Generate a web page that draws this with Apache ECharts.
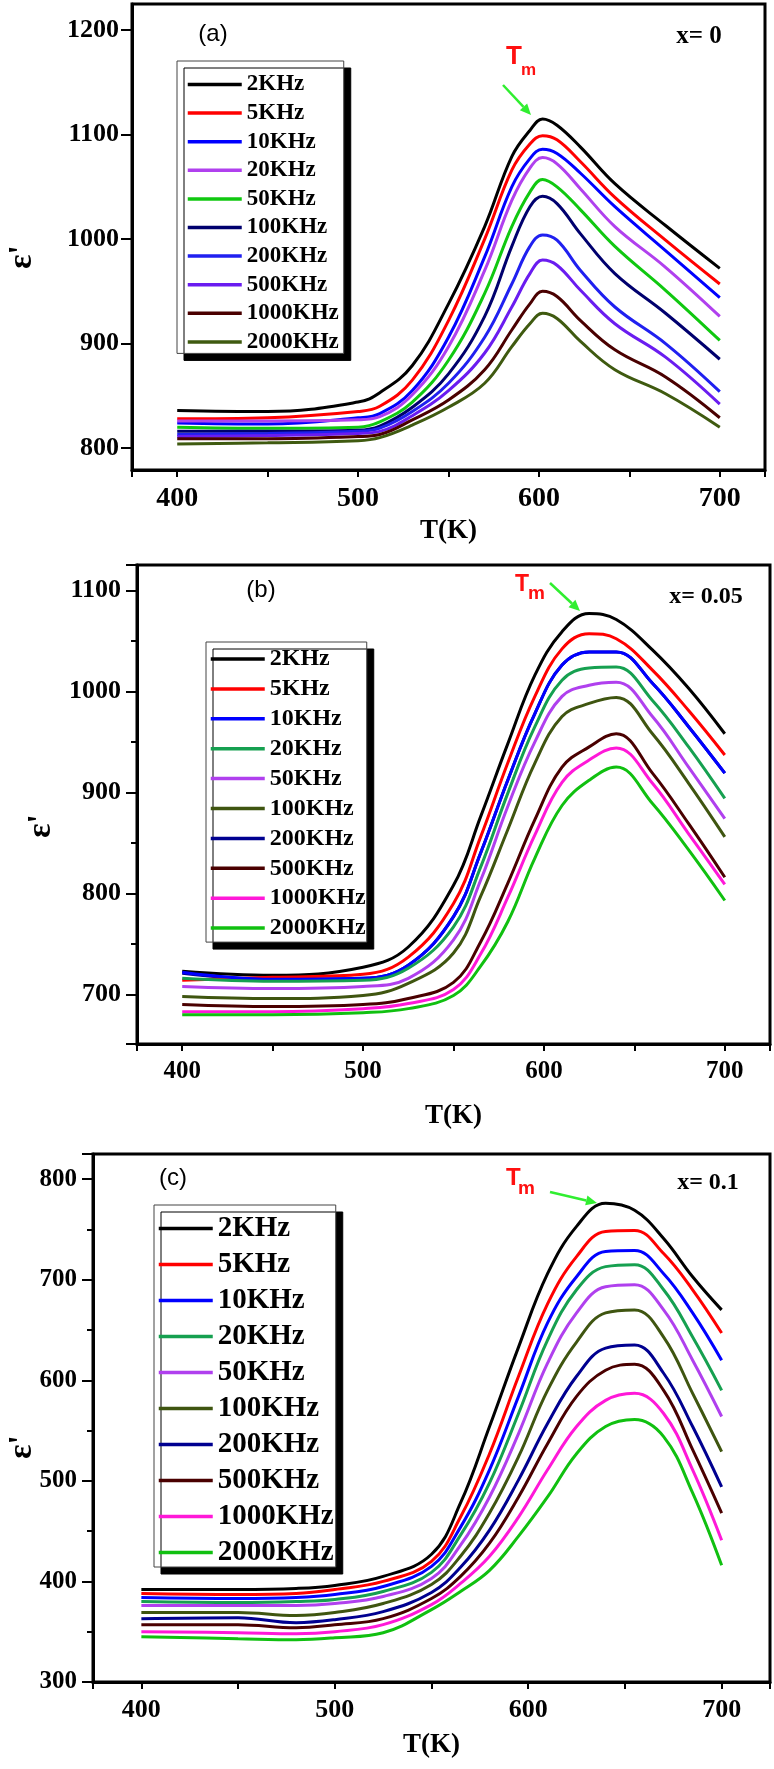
<!DOCTYPE html>
<html>
<head>
<meta charset="utf-8">
<script src="https://cdn.jsdelivr.net/npm/echarts@6.0.0/dist/echarts.min.js"></script>
<style>
  html, body { margin: 0; padding: 0; background: #fff; }
  #wrap { position: relative; width: 774px; height: 1769px; }
  .panel { position: absolute; left: 0; width: 774px; }
</style>
</head>
<body>
<div id="wrap">
  <div id="chartA" class="panel" style="top:0;height:548px"></div>
  <div id="chartB" class="panel" style="top:548px;height:582px"></div>
  <div id="chartC" class="panel" style="top:1130px;height:639px"></div>
</div>
<script>
const freqLabels = ['2KHz', '5KHz', '10KHz', '20KHz', '50KHz', '100KHz', '200KHz', '500KHz', '1000KHz', '2000KHz'];

// (a) x = 0
const tempA = [400, 450, 500, 512, 530, 550, 570, 585, 595, 602, 610, 623, 642, 670, 700];
const a2k = [836, 835, 844, 853, 879, 938, 1012, 1079, 1104, 1115, 1109, 1088, 1053, 1013, 972];
const a5k = [828, 829, 835, 840, 865, 922, 1000, 1066, 1091, 1099, 1095, 1074, 1040, 999, 957];
const a10k = [824, 823, 829, 833, 855, 906, 983, 1050, 1077, 1086, 1082, 1063, 1031, 989, 944];
const a20k = [826, 826, 827, 830, 851, 897, 970, 1037, 1068, 1078, 1072, 1048, 1012, 973, 926];
const a50k = [820, 819, 820, 825, 844, 884, 948, 1012, 1045, 1057, 1050, 1028, 993, 951, 903];
const a100k = [816, 816, 817, 821, 839, 871, 926, 993, 1031, 1041, 1034, 1005, 967, 929, 885];
const a200k = [813, 814, 816, 819, 835, 862, 906, 957, 993, 1004, 999, 970, 935, 900, 854];
const a500k = [811, 812, 814, 816, 831, 855, 891, 935, 967, 980, 975, 951, 919, 887, 842];
const a1000k = [809, 809, 811, 813, 827, 846, 875, 913, 938, 950, 945, 922, 894, 868, 829];
const a2000k = [804, 805, 807, 810, 822, 839, 862, 897, 919, 929, 924, 902, 875, 852, 820];

// (b) x = 0.05
const tempB = [400, 450, 500, 525, 550, 565, 580, 595, 610, 625, 640, 660, 680, 700];
const b2k = [723, 719, 727, 747, 808, 876, 948, 1016, 1059, 1077, 1071, 1041, 1003, 958];
const b5k = [714, 717, 720, 737, 790, 856, 929, 995, 1042, 1057, 1052, 1021, 981, 937];
const b10k = [722, 715, 716, 729, 777, 840, 912, 978, 1026, 1039, 1039, 1008, 965, 919];
const b20k = [716, 713, 714, 726, 767, 826, 899, 965, 1011, 1023, 1024, 991, 945, 894];
const b50k = [708, 706, 708, 716, 754, 813, 886, 950, 995, 1006, 1009, 975, 925, 874];
const b100k = [698, 696, 699, 711, 741, 797, 863, 929, 975, 988, 994, 958, 909, 856];
const b200k = [721, 715, 716, 729, 777, 840, 912, 978, 1026, 1039, 1039, 1008, 965, 919];
const b500k = [690, 688, 690, 696, 712, 752, 810, 873, 925, 945, 958, 919, 869, 816];
const b1000k = [683, 683, 686, 691, 705, 740, 796, 858, 910, 932, 944, 909, 859, 809];
const b2000k = [680, 680, 682, 686, 699, 728, 772, 835, 887, 912, 925, 889, 843, 793];

// (c) x = 0.1
const tempC = [400, 450, 480, 500, 525, 550, 565, 580, 595, 610, 625, 640, 655, 670, 685, 700];
const c2k = [392, 392, 393, 396, 405, 427, 478, 554, 633, 706, 753, 776, 769, 741, 703, 670];
const c5k = [388, 387, 388, 392, 400, 420, 464, 527, 604, 676, 723, 748, 749, 726, 690, 647];
const c10k = [384, 383, 384, 387, 395, 415, 454, 511, 584, 657, 703, 728, 729, 706, 667, 620];
const c20k = [380, 379, 380, 382, 390, 409, 446, 498, 567, 640, 690, 713, 715, 690, 643, 590];
const c50k = [376, 376, 376, 378, 385, 403, 436, 484, 547, 617, 667, 693, 695, 670, 620, 564];
const c100k = [369, 369, 366, 369, 378, 397, 425, 468, 524, 590, 638, 667, 670, 643, 587, 529];
const c200k = [363, 364, 359, 362, 370, 389, 414, 451, 501, 557, 604, 632, 635, 607, 554, 494];
const c500k = [357, 357, 354, 357, 363, 383, 405, 438, 484, 537, 584, 610, 616, 590, 531, 468];
const c1000k = [350, 349, 348, 350, 357, 377, 398, 425, 464, 511, 554, 580, 587, 567, 511, 441];
const c2000k = [345, 343, 342, 344, 349, 372, 390, 411, 445, 484, 527, 554, 561, 544, 488, 416];

const colorsA = ['#000000', '#ff0000', '#0000ff', '#b040ee', '#10c810', '#00006e', '#2020f0', '#6a1cf0', '#4a0000', '#3f5a10'];
const colorsB = ['#000000', '#ff0000', '#0000ff', '#16a050', '#b040ee', '#3f5510', '#000090', '#4a0000', '#ff18d8', '#10c010'];
const colorsC = ['#000000', '#ff0000', '#0000ff', '#16a050', '#b040ee', '#3f5510', '#000090', '#4a0000', '#ff18d8', '#10c010'];

const SERIF = "'Liberation Serif', 'Times New Roman', serif";
const SANS = "'Liberation Sans', Arial, sans-serif";
const ARROW = '#30ee30';

const buildSeries = (temps, lists, colors, hidden) => lists.map((vals, i) => ({
    name: freqLabels[i],
    type: 'line',
    data: temps.map((t, j) => [t, vals[j]]),
    smooth: 0.4,
    symbol: 'none',
    lineStyle: { color: colors[i], width: 3 },
    itemStyle: { color: colors[i] },
    z: i === hidden ? 1 : 2,
    silent: true,
}));

const arrow = (x1, y1, x2, y2) => {
    const len = Math.hypot(x2 - x1, y2 - y1);
    const ux = (x2 - x1) / len;
    const uy = (y2 - y1) / len;
    const bx = x2 - ux * 11;
    const by = y2 - uy * 11;
    return [
        { type: 'line', shape: { x1, y1, x2: bx, y2: by }, style: { stroke: ARROW, lineWidth: 2.5 } },
        {
            type: 'polygon',
            shape: { points: [[x2, y2], [bx - uy * 5, by + ux * 5], [bx + uy * 5, by - ux * 5]] },
            style: { fill: ARROW },
        },
    ];
};

const label = (text, x, y, font, fill, align, rotation) => ({
    type: 'text', x, y, rotation: rotation || 0,
    style: { text, font, fill: fill || '#000', align: align || 'center', verticalAlign: 'middle' },
});

const panelOption = (cfg) => ({
    animation: false,
    backgroundColor: '#fff',
    grid: {
        left: cfg.grid[0], right: cfg.grid[1], top: cfg.grid[2], bottom: cfg.grid[3],
        show: true, borderColor: '#000', borderWidth: 3, backgroundColor: 'transparent',
        containLabel: false, outerBoundsMode: 'none',
    },
    legend: {
        orient: 'vertical',
        left: cfg.legend.left,
        top: cfg.legend.top,
        padding: cfg.legend.padding,
        itemWidth: 54,
        itemHeight: cfg.legend.fontSize,
        itemGap: cfg.legend.gap,
        backgroundColor: '#fff',
        borderColor: '#444',
        borderWidth: 1,
        borderRadius: 0,
        shadowColor: '#000',
        shadowBlur: 0,
        shadowOffsetX: 7,
        shadowOffsetY: 7,
        selectedMode: false,
        itemStyle: { opacity: 0, borderWidth: 0 },
        lineStyle: { width: 3.5 },
        textStyle: {
            fontFamily: SERIF, fontWeight: 'bold', fontSize: cfg.legend.fontSize, color: '#000',
        },
        data: freqLabels,
    },
    xAxis: {
        type: 'value', min: 375, max: 725, splitNumber: 4,
        name: 'T(K)', nameLocation: 'middle', nameGap: cfg.xNameGap,
        nameTextStyle: { fontFamily: SERIF, fontWeight: 'bold', fontSize: 27, color: '#000' },
        axisLine: { show: true, onZero: false, lineStyle: { color: '#000', width: 3 } },
        axisTick: { show: true, length: 7, lineStyle: { color: '#000', width: 2 } },
        minorTick: { show: true, splitNumber: 2, length: 7, lineStyle: { color: '#000', width: 2 } },
        axisLabel: {
            showMinLabel: false, showMaxLabel: false, margin: 15,
            fontFamily: SERIF, fontWeight: 'bold', fontSize: cfg.xFont, color: '#000',
        },
        splitLine: { show: false },
    },
    yAxis: {
        type: 'value', min: cfg.yRange[0], max: cfg.yRange[1], splitNumber: 5,
        axisLine: { show: true, onZero: false, lineStyle: { color: '#000', width: 3 } },
        axisTick: { show: true, length: 11, lineStyle: { color: '#000', width: 2 } },
        minorTick: { show: cfg.yMinor, splitNumber: 2, length: 6, lineStyle: { color: '#000', width: 2 } },
        axisLabel: {
            showMinLabel: cfg.yShowMin, showMaxLabel: false, margin: cfg.yMargin,
            fontFamily: SERIF, fontWeight: 'bold', fontSize: cfg.yFont, color: '#000',
            formatter: (v) => String(v),
        },
        splitLine: { show: false },
    },
    graphic: cfg.graphic,
    series: cfg.series,
});

// y-axis title, drawn rotated like the original
const epsTitle = (x, y) => label("ε'", x, y, 'bold 34px ' + SERIF, '#000', 'center', Math.PI / 2);

const chartA = echarts.init(document.getElementById('chartA'));
chartA.setOption(panelOption({
    grid: [132, 9, 4, 78],
    yRange: [779, 1225],
    yShowMin: false,
    yMinor: false,
    yFont: 26,
    yMargin: 13,
    xFont: 28,
    xNameGap: 44,
    legend: { left: 177, top: 61, padding: [12, 5, 0, 9], gap: 5.6, fontSize: 23 },
    graphic: [
        epsTitle(22, 257),
        label('(a)', 213, 34, '24px ' + SANS),
        label('x= 0', 699, 37, 'bold 25px ' + SERIF),
        label('T', 506, 57, 'bold 26px ' + SANS, '#ff1010', 'left'),
        label('m', 521, 70, 'bold 17px ' + SANS, '#ff1010', 'left'),
        ...arrow(503, 85, 531, 115),
    ],
    series: buildSeries(tempA, [a2k, a5k, a10k, a20k, a50k, a100k, a200k, a500k, a1000k, a2000k], colorsA, -1),
}));

const chartB = echarts.init(document.getElementById('chartB'));
chartB.setOption(panelOption({
    grid: [137, 4, 17, 86],
    yRange: [651, 1125],
    yShowMin: false,
    yMinor: true,
    yFont: 26,
    yMargin: 16,
    xFont: 25,
    xNameGap: 59,
    legend: { left: 206, top: 94, padding: [5, 1, 2, 3], gap: 5.9, fontSize: 24 },
    graphic: [
        epsTitle(41, 278),
        label('(b)', 261, 42, '24px ' + SANS),
        label('x= 0.05', 706, 49, 'bold 24px ' + SERIF),
        label('T', 515, 37, 'bold 23px ' + SANS, '#ff1010', 'left'),
        label('m', 528, 46, 'bold 19px ' + SANS, '#ff1010', 'left'),
        ...arrow(550, 35, 580, 63),
    ],
    series: buildSeries(tempB, [b2k, b5k, b10k, b20k, b50k, b100k, b200k, b500k, b1000k, b2000k], colorsB, 6),
}));

const chartC = echarts.init(document.getElementById('chartC'));
chartC.setOption(panelOption({
    grid: [93, 4, 24, 87],
    yRange: [300, 825],
    yShowMin: true,
    yMinor: true,
    yFont: 25,
    yMargin: 16,
    xFont: 26,
    xNameGap: 50,
    legend: { left: 154, top: 75, padding: [9, 2, 0, 3], gap: 7, fontSize: 29 },
    graphic: [
        epsTitle(22, 317),
        label('(c)', 173, 48, '24px ' + SANS),
        label('x= 0.1', 708, 53, 'bold 24px ' + SERIF),
        label('T', 506, 48, 'bold 24px ' + SANS, '#ff1010', 'left'),
        label('m', 518, 59, 'bold 19px ' + SANS, '#ff1010', 'left'),
        ...arrow(550, 62, 597, 73),
    ],
    series: buildSeries(tempC, [c2k, c5k, c10k, c20k, c50k, c100k, c200k, c500k, c1000k, c2000k], colorsC, -1),
}));
</script>
</body>
</html>
